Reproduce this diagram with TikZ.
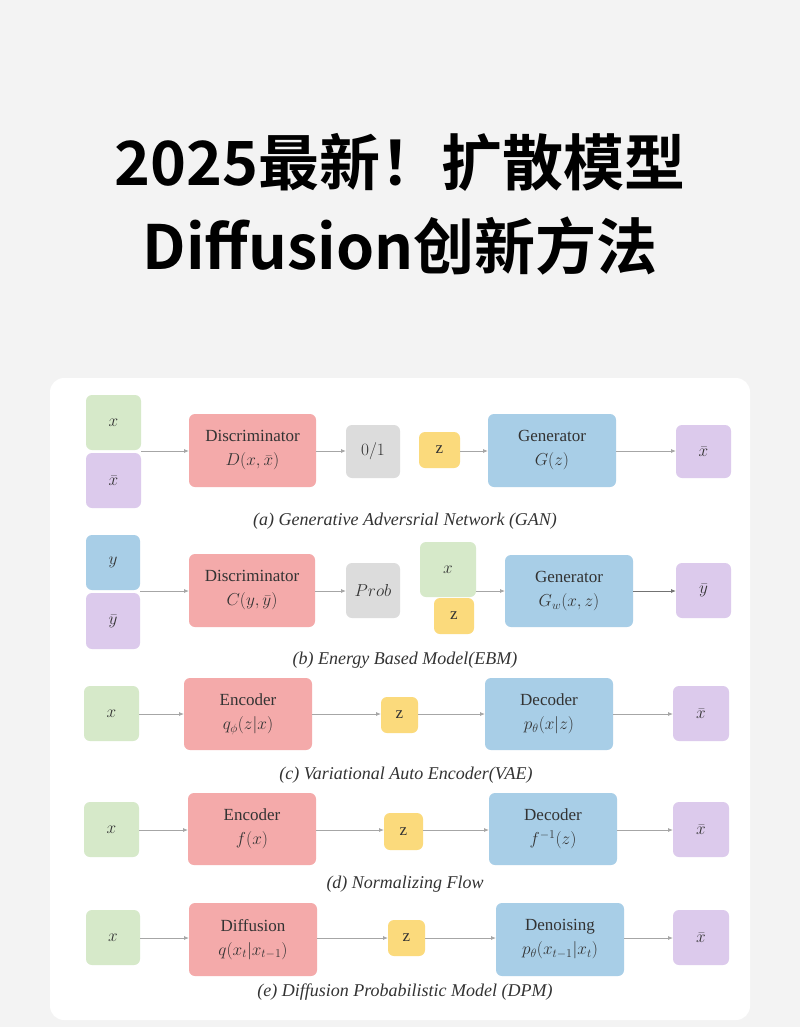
\documentclass[tikz,border=0pt]{standalone}
\usepackage{fontspec}
\setmainfont{Liberation Serif}
\newfontfamily\cjk{Noto Sans CJK SC}[BoldFont={* Bold}]
\usetikzlibrary{arrows.meta,calc}
\definecolor{bgc}{HTML}{F3F3F3}
\definecolor{gfill}{HTML}{D6E9C9}
\definecolor{pfill}{HTML}{DCCAEC}
\definecolor{rfill}{HTML}{F4AAAA}
\definecolor{grfill}{HTML}{DCDCDC}
\definecolor{yfill}{HTML}{FBDA7C}
\definecolor{bfill}{HTML}{A8CEE7}
\definecolor{txt}{HTML}{333333}
\tikzset{
  bxs/.style={text=txt, font=\fontsize{17}{24}\selectfont, align=center},
  arr/.style={draw=gray!70, line width=0.8pt, -{Latex[length=5pt,width=4pt]}},
  capt/.style={font=\fontsize{18}{21}\selectfont\itshape, text=txt}
}
\newcommand{\bxd}[5]{\fill[#5, rounded corners=6pt] (#1) rectangle (#2); \node[bxs] (#3) at ($(#1)!0.5!(#2)$) {#4};}
\begin{document}
\begin{tikzpicture}[x=1pt,y=-1pt]
\useasboundingbox (0,0) rectangle (800,1027);
\fill[bgc] (0,0) rectangle (800,1027);
\fill[white, rounded corners=14pt] (50,378) rectangle (750,1020);
\node[font=\cjk\bfseries\fontsize{61}{66}\selectfont] (t1) at (400,162) {2025最新！扩散模型};
\node[font=\cjk\bfseries\fontsize{61}{66}\selectfont] (t2) at (400,246) {Diffusion创新方法};
% row a
\bxd{86,395}{141,450}{ax}{$x$}{gfill}
\bxd{86,453}{141,508}{axb}{$\bar x$}{pfill}
\bxd{189,414}{316,487}{ad}{Discriminator\\$D(x,\bar x)$}{rfill}
\bxd{346,425}{400,478}{ap}{$0/1$}{grfill}
\bxd{419,432}{460,468}{az}{z}{yfill}
\bxd{488,414}{616,487}{ag}{Generator\\$G(z)$}{bfill}
\bxd{676,425}{731,478}{ao}{$\bar x$}{pfill}
\coordinate (aj) at (141,451);
\coordinate (adw) at (189,451);
\draw[arr] (aj) -- (adw);
\draw[arr] (316,451) -- (346,451);
\draw[arr] (460,451) -- (488,451);
\draw[arr] (616,451) -- (676,451);
\node[capt] (ca) at (405,521) {(a) Generative Adversrial Network (GAN)};
% row b
\bxd{86,535}{140,590}{by}{$y$}{bfill}
\bxd{86,593}{140,649}{byb}{$\bar y$}{pfill}
\bxd{189,554}{315,627}{bd}{Discriminator\\$C(y,\bar y)$}{rfill}
\bxd{346,563}{400,618}{bp}{$Prob$}{grfill}
\bxd{420,542}{476,597}{bxx}{$x$}{gfill}
\bxd{434,598}{474,634}{bz}{z}{yfill}
\bxd{505,555}{633,627}{bg}{Generator\\$G_w(x,z)$}{bfill}
\bxd{676,563}{731,618}{bo}{$\bar y$}{pfill}
\draw[arr] (140,591) -- (189,591);
\draw[arr] (315,591) -- (346,591);
\draw[arr] (476,591) -- (505,591);
\draw[arr, draw=gray!90!black] (633,591) -- (676,591);
\node[capt] (cb) at (405,660) {(b) Energy Based Model(EBM)};
% row c
\bxd{84,686}{139,741}{cx}{$x$}{gfill}
\bxd{184,678}{312,750}{ce}{Encoder\\$q_\phi(z|x)$}{rfill}
\bxd{381,697}{418,733}{cz}{z}{yfill}
\bxd{485,678}{613,750}{cd}{Decoder\\$p_\theta(x|z)$}{bfill}
\bxd{673,686}{729,741}{co}{$\bar x$}{pfill}
\draw[arr] (139,714) -- (184,714);
\draw[arr] (312,714) -- (381,714);
\draw[arr] (418,714) -- (485,714);
\draw[arr] (613,714) -- (673,714);
\node[capt] (cc) at (406,775) {(c) Variational Auto Encoder(VAE)};
% row d
\bxd{84,802}{139,857}{dx}{$x$}{gfill}
\bxd{188,793}{316,865}{de}{Encoder\\$f(x)$}{rfill}
\bxd{384,813}{423,850}{dz}{z}{yfill}
\bxd{489,793}{617,865}{dd}{Decoder\\$f^{-1}(z)$}{bfill}
\bxd{673,802}{729,857}{dout}{$\bar x$}{pfill}
\draw[arr] (139,830) -- (188,830);
\draw[arr] (316,830) -- (384,830);
\draw[arr] (423,830) -- (489,830);
\draw[arr] (617,830) -- (673,830);
\node[capt] (cd2) at (405,884) {(d) Normalizing Flow};
% row e
\bxd{86,910}{140,965}{ex}{$x$}{gfill}
\bxd{189,903}{317,976}{ee}{Diffusion\\$q(x_t|x_{t-1})$}{rfill}
\bxd{388,920}{425,956}{ez}{z}{yfill}
\bxd{496,903}{624,976}{ed}{Denoising\\$p_\theta(x_{t-1}|x_t)$}{bfill}
\bxd{673,910}{729,965}{eo}{$\bar x$}{pfill}
\draw[arr] (140,938) -- (189,938);
\draw[arr] (317,938) -- (388,938);
\draw[arr] (425,938) -- (496,938);
\draw[arr] (624,938) -- (673,938);
\node[capt] (ce2) at (405,992) {(e) Diffusion Probabilistic Model (DPM)};
\end{tikzpicture}
\end{document}
